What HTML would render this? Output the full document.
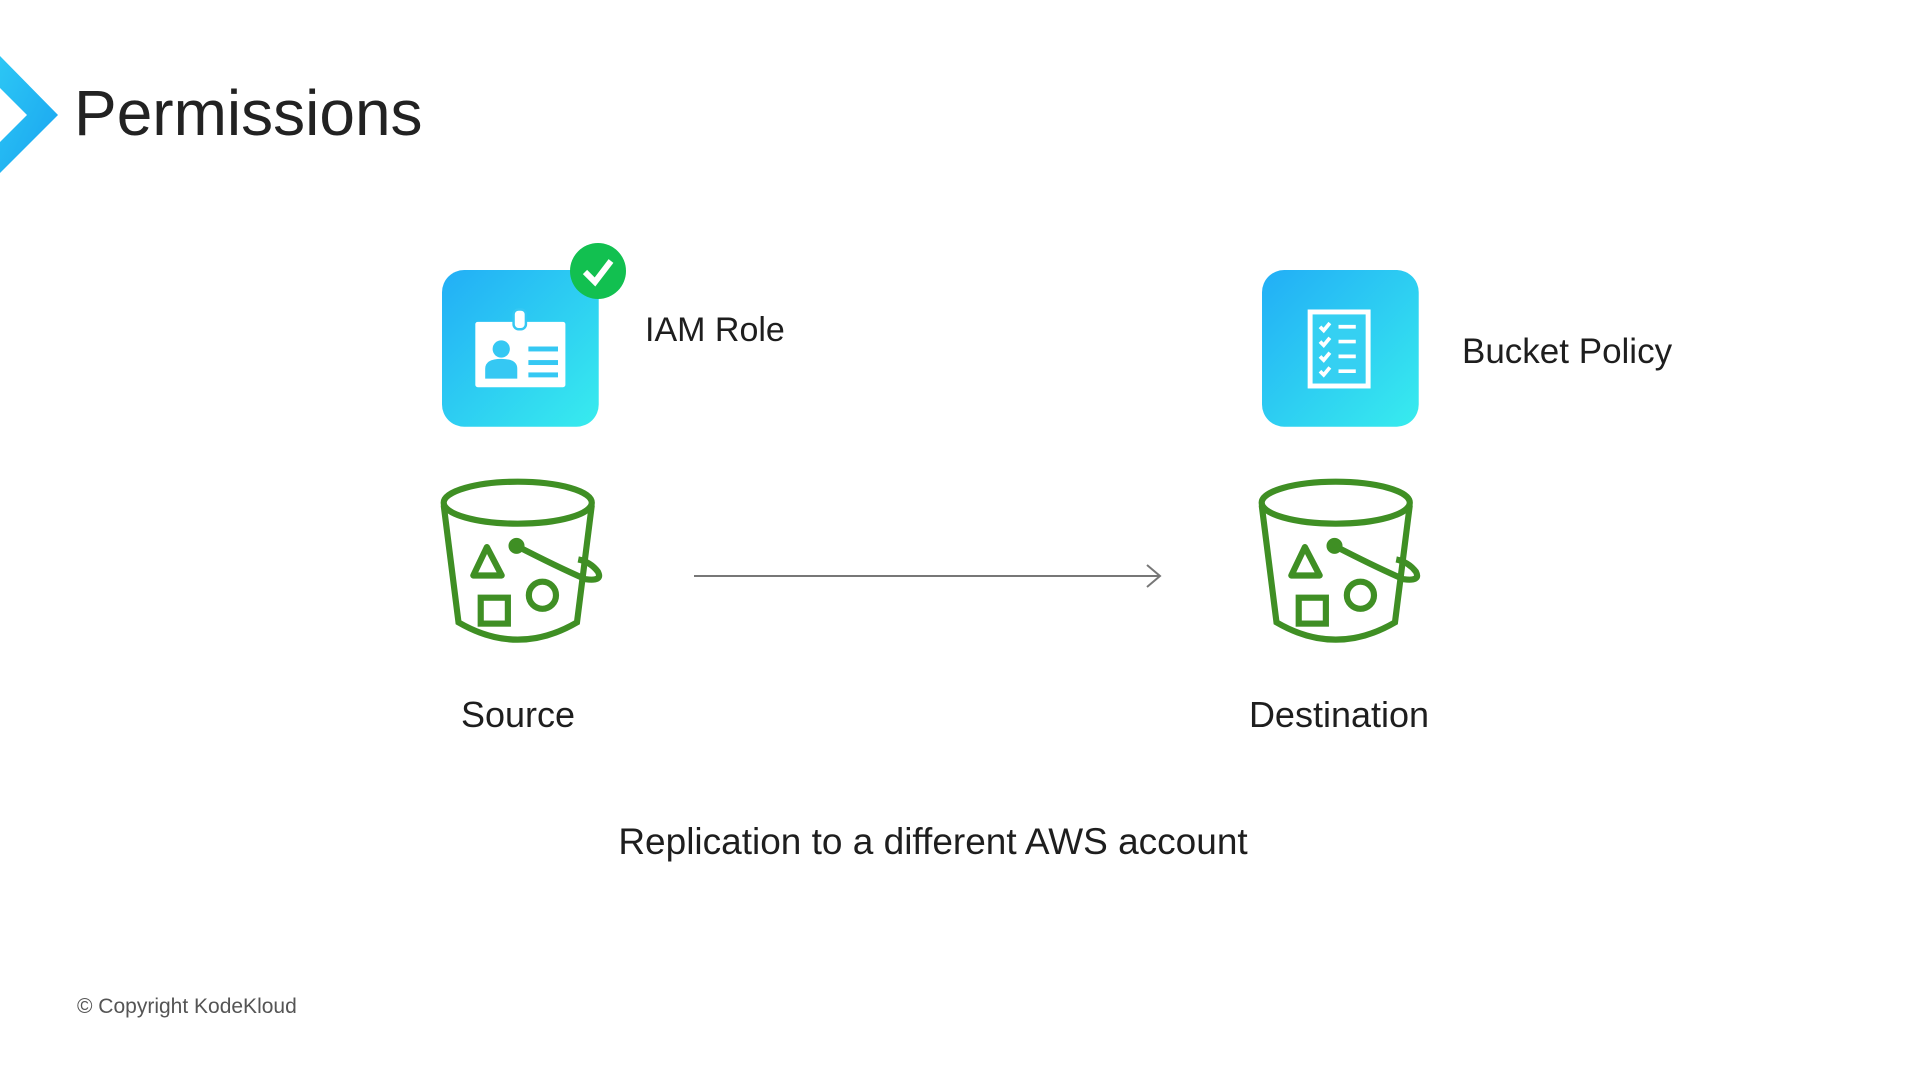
<!DOCTYPE html>
<html><head><meta charset="utf-8"><style>
body{margin:0;width:1920px;height:1080px;background:#fff;position:relative;overflow:hidden;font-family:"Liberation Sans",sans-serif;color:#1e1e1e}
.t{position:absolute;white-space:nowrap}
</style></head><body>
<svg width="1920" height="1080" style="position:absolute;left:0;top:0">
<defs>
<linearGradient id="g" x1="0" y1="0" x2="1" y2="1"><stop offset="0" stop-color="#22aef6"/><stop offset="1" stop-color="#38ecee"/></linearGradient>
<linearGradient id="c" x1="0" y1="0" x2="1" y2="1"><stop offset="0" stop-color="#2cc7f5"/><stop offset="1" stop-color="#1aa4f0"/></linearGradient>
</defs>
<polygon points="0,56 58,115 0,173 0,142 27,115 0,88" fill="url(#c)"/>
<g transform="translate(442,270) scale(1.234)">
<rect width="127" height="127" rx="18" fill="url(#g)"/>
<rect x="27" y="42" width="73" height="53" rx="2" fill="#fff"/>
<rect x="58" y="32" width="10" height="16" rx="4" fill="#fff" stroke="#35c8f3" stroke-width="2"/>
<circle cx="48" cy="64" r="7" fill="#35c8f3"/>
<path d="M35 88 V80 Q35 72 48 72 Q61 72 61 80 V88 Z" fill="#35c8f3"/>
<rect x="70" y="62" width="24" height="4" fill="#35c8f3"/>
<rect x="70" y="73" width="24" height="4" fill="#35c8f3"/>
<rect x="70" y="83" width="24" height="4" fill="#35c8f3"/>
</g>
<circle cx="598" cy="271" r="28" fill="#12c050"/>
<path d="M585 272 L595 282 L611 261" fill="none" stroke="#fff" stroke-width="6"/>
<g transform="translate(1262,270) scale(1.234)">
<rect width="127" height="127" rx="18" fill="url(#g)"/>
<rect x="39" y="34" width="47" height="60" fill="#35d0f2" stroke="#fff" stroke-width="4"/>
<g fill="none" stroke="#fff" stroke-width="3">
<path d="M47 46 l3 3 l5 -6 M47 58 l3 3 l5 -6 M47 70 l3 3 l5 -6 M47 82 l3 3 l5 -6"/>
<path d="M62 46 h14 M62 58 h14 M62 70 h14 M62 82 h14"/>
</g>
</g>
<g id="b" transform="translate(440,478) scale(1.234)" fill="none" stroke="#3f8f24" stroke-width="5">
<ellipse cx="63" cy="20" rx="60" ry="17"/>
<path d="M3 22 L15 117 Q63 145 111 117 L123 22"/>
<path d="M38 56 L27 79 L50 79 Z" stroke-linejoin="round"/>
<rect x="33" y="97" width="22" height="21"/>
<circle cx="83" cy="95" r="11"/>
<path d="M62 55 Q95 72 118 82 Q132 84 128 76 Q122 68 112 66"/>
<circle cx="62" cy="55" r="4" fill="#3f8f24"/>
</g>
<use href="#b" transform="translate(818,0)"/>
<line x1="694" y1="576" x2="1160" y2="576" stroke="#777" stroke-width="2"/>
<path d="M1147 565 L1160 576 L1147 587" fill="none" stroke="#777" stroke-width="2"/>
</svg>
<div class="t" style="left:74px;top:76px;font-size:64px;color:#222">Permissions</div>
<div class="t" style="left:645px;top:311px;font-size:34px">IAM Role</div>
<div class="t" style="left:1462px;top:332px;font-size:35px">Bucket Policy</div>
<div class="t" style="left:418px;width:200px;text-align:center;top:694px;font-size:36px">Source</div>
<div class="t" style="left:1189px;width:300px;text-align:center;top:694px;font-size:36px">Destination</div>
<div class="t" style="left:533px;width:800px;text-align:center;top:821px;font-size:37px">Replication to a different AWS account</div>
<div class="t" style="left:77px;top:995px;font-size:21px;color:#555">© Copyright KodeKloud</div>
</body></html>
